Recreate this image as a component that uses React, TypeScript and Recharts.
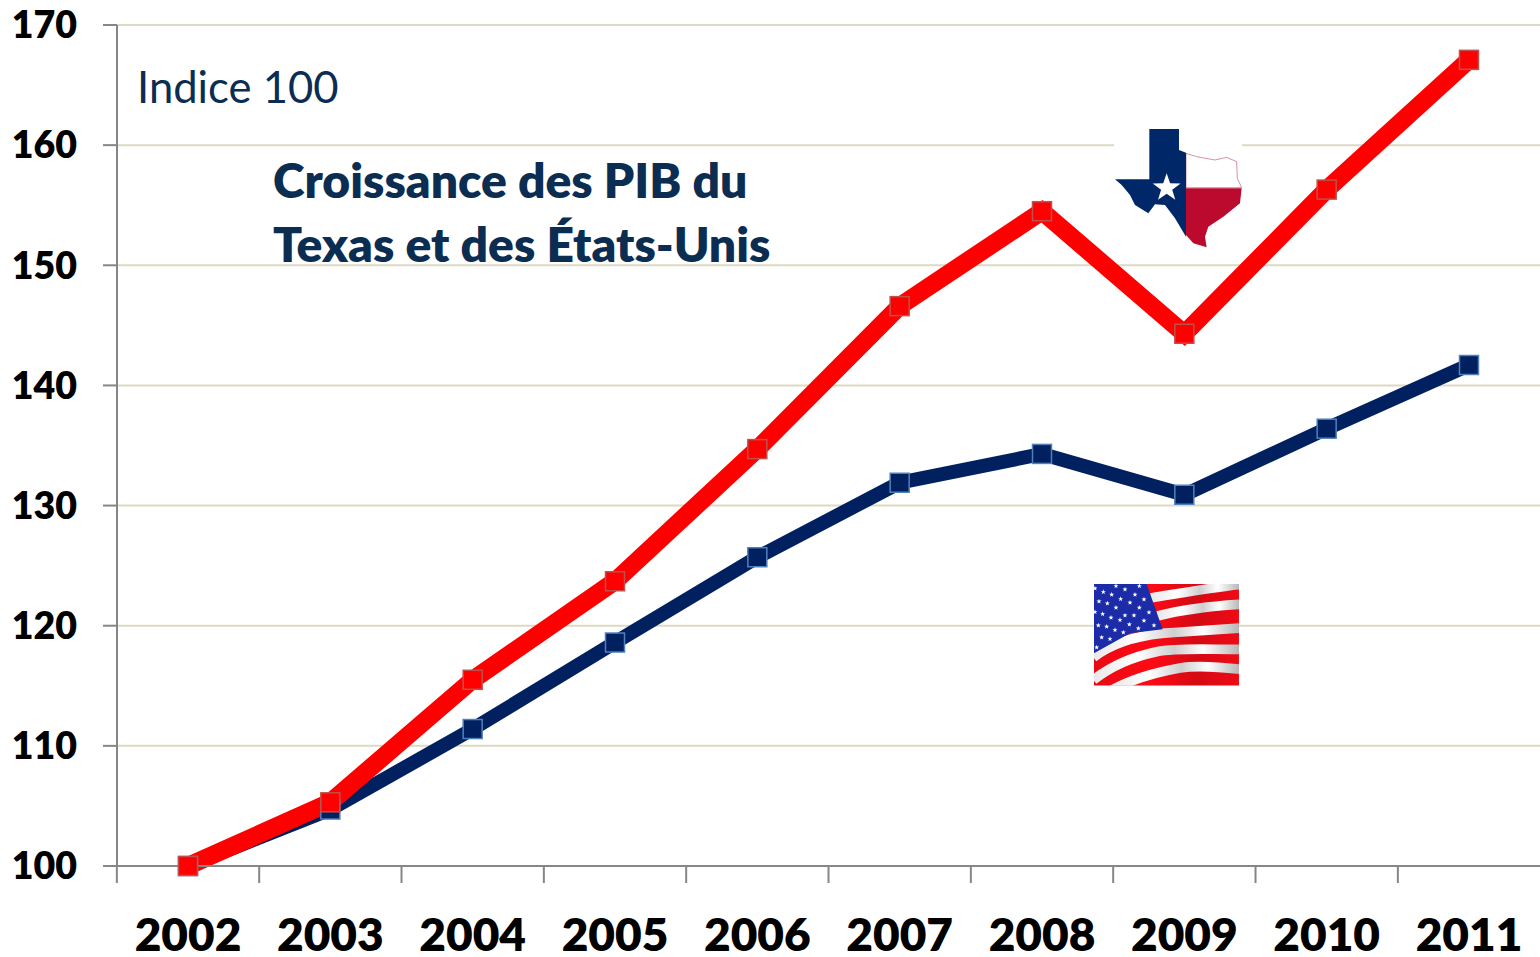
import React from "react";
import { LineChart, Line, XAxis, YAxis, CartesianGrid } from "recharts";

const years = ["2002", "2003", "2004", "2005", "2006", "2007", "2008", "2009", "2010", "2011"];
const texas = [100, 105.3, 115.5, 123.7, 134.7, 146.6, 154.5, 144.3, 156.3, 167.1];
const usa = [100, 104.7, 111.4, 118.6, 125.7, 131.9, 134.3, 130.9, 136.4, 141.7];
const yTicks = [100, 110, 120, 130, 140, 150, 160, 170];
const rows = years.map((year, i) => ({ year, texas: texas[i], usa: usa[i] }));

const FONT = "Lato, 'Open Sans', sans-serif";
const AXIS = "#868686";
const GRID = "#ddd9c3";
const NAVY = "#002060";
const TITLE = "#0b2d52";

const SquareDot = (fill: string, border: string) => (p: any) => (
  <rect key={p.index} x={p.cx - 9.5} y={p.cy - 9.5} width={19} height={19} fill={fill} stroke={border} strokeWidth={1.5} />
);

const XTick = (p: any) => {
  const band = p.width / p.visibleTicksCount;
  const left = p.x - band / 2;
  return (
    <g>
      <line x1={left} x2={left} y1={866} y2={883} stroke={AXIS} strokeWidth={2} />
      <text x={p.x} y={951} textAnchor="middle" fontFamily={FONT} fontWeight={800} fontSize={46} fill="#000">{p.payload.value}</text>
    </g>
  );
};

const starSpots = [
  [45,55],[108,48],[178,48],[70,66],[135,58],[95,74],[165,74],[57,94],[122,87],[192,88],[82,100],[150,98],[45,126],[108,113],[178,113],[68,132],[135,136],[207,127],[93,143],[162,136],[55,166],[120,150],[192,152],[80,170],[148,163],[222,166],[105,180],[175,175],[65,202],[130,187],[90,207],[50,232],
];

const starPoints = (cx: number, cy: number, r: number) => {
  const pts: string[] = [];
  for (let i = 0; i < 10; i++) {
    const a = -Math.PI / 2 + (i * Math.PI) / 5;
    const rr = i % 2 ? r * 0.4 : r;
    pts.push(`${cx + rr * Math.cos(a)},${cy + rr * Math.sin(a)}`);
  }
  return pts.join(" ");
};

const whiteBands = [
  "M212,84 C300,70 400,52 480,44",
  "M232,138 C310,118 400,108 480,103",
  "M40,262 C100,215 170,198 245,190 C330,184 420,178 480,174",
  "M40,330 C90,290 150,262 230,245 C300,232 410,240 480,238",
  "M92,362 C150,330 220,308 300,294 C360,284 430,292 480,298",
];

const Flags = () => (
  <svg width={1540} height={957} style={{ position: "absolute", left: 0, top: 0, pointerEvents: "none" }}>
    <defs>
      <clipPath id="flagClip"><rect x={42} y={42} width={435} height={305} /></clipPath>
      <linearGradient id="whiteShade" x1="0" x2="1" y1="0" y2="0">
        <stop offset="0" stopColor="#e8e8e8" />
        <stop offset="0.3" stopColor="#ffffff" />
        <stop offset="0.55" stopColor="#cfcfcf" />
        <stop offset="0.75" stopColor="#ffffff" />
        <stop offset="1" stopColor="#b5b5b5" />
      </linearGradient>
      <linearGradient id="redShade" x1="0" x2="1" y1="0" y2="0">
        <stop offset="0" stopColor="#e80a14" />
        <stop offset="0.4" stopColor="#ff0a14" />
        <stop offset="0.7" stopColor="#d40a14" />
        <stop offset="1" stopColor="#f00a14" />
      </linearGradient>
    </defs>
    <text x={137} y={103} fontFamily={FONT} fontSize={43.6} fill={TITLE}>Indice 100</text>
    <text x={273} y={198} fontFamily={FONT} fontWeight={800} fontSize={48} fill={TITLE}>Croissance des PIB du</text>
    <text x={273} y={262} fontFamily={FONT} fontWeight={800} fontSize={48} fill={TITLE}>Texas et des États-Unis</text>

    <g transform="translate(1080,110) scale(0.3333)">
      <rect x={102} y={60} width={384} height={140} fill="#fff" />
      <polygon points="318,130 350,140 405,150 440,142 470,155 472,205 485,233 318,233" fill="#fff" stroke="#c9566e" strokeWidth={2} />
      <polygon points="318,235 485,235 480,280 430,320 385,350 375,380 380,412 340,400 318,375" fill="#bc0a2f" />
      <polygon points="208,57 297,57 297,120 318,128 318,380 285,325 255,285 225,283 205,310 165,285 150,255 125,225 105,208 208,208" fill="#002868" />
      <polygon points={starPoints(260, 234, 44)} fill="#fff" />
    </g>

    <g transform="translate(1080,570) scale(0.3333)">
      <g clipPath="url(#flagClip)">
        <rect x={42} y={42} width={435} height={305} fill="url(#redShade)" />
        {whiteBands.map((d, i) => (
          <path key={i} d={d} fill="none" stroke="url(#whiteShade)" strokeWidth={29} />
        ))}
        <polygon points="42,42 200,42 248,178 150,190 42,250" fill="#1c2ba8" />
        {starSpots.map(([x, y], i) => (
          <polygon key={i} points={starPoints(x, y, 8)} fill="#fff" />
        ))}
      </g>
    </g>
  </svg>
);

export default function App() {
  return (
    <div style={{ position: "fixed", left: 0, top: 0, width: 1540, height: 957, background: "#fff", overflow: "hidden" }}>
      <LineChart width={1540} height={957} data={rows} margin={{ top: 25, right: 0, bottom: 0, left: 0 }}>
        <CartesianGrid horizontal vertical={false} stroke={GRID} strokeWidth={2} />
        <XAxis dataKey="year" interval={0} height={91} padding={{ left: 71, right: 71 }} axisLine={{ stroke: AXIS, strokeWidth: 2 }} tickLine={false} tick={<XTick />} />
        <YAxis
          domain={[100, 170]}
          ticks={yTicks}
          width={117}
          interval={0}
          axisLine={{ stroke: AXIS, strokeWidth: 2 }}
          tickLine={{ stroke: AXIS, strokeWidth: 2 }}
          tickSize={14}
          tickMargin={26}
          tick={{ fontFamily: FONT, fontWeight: 800, fontSize: 37.5, fill: "#000" }}
        />
        <Line dataKey="usa" stroke={NAVY} strokeWidth={14} isAnimationActive={false} dot={SquareDot(NAVY, "#4f81bd")} strokeLinejoin="miter" />
        <Line dataKey="texas" stroke="#ff0000" strokeWidth={18} isAnimationActive={false} dot={SquareDot("#ff0000", "#c0504d")} strokeLinejoin="miter" />
      </LineChart>
      <Flags />
    </div>
  );
}
